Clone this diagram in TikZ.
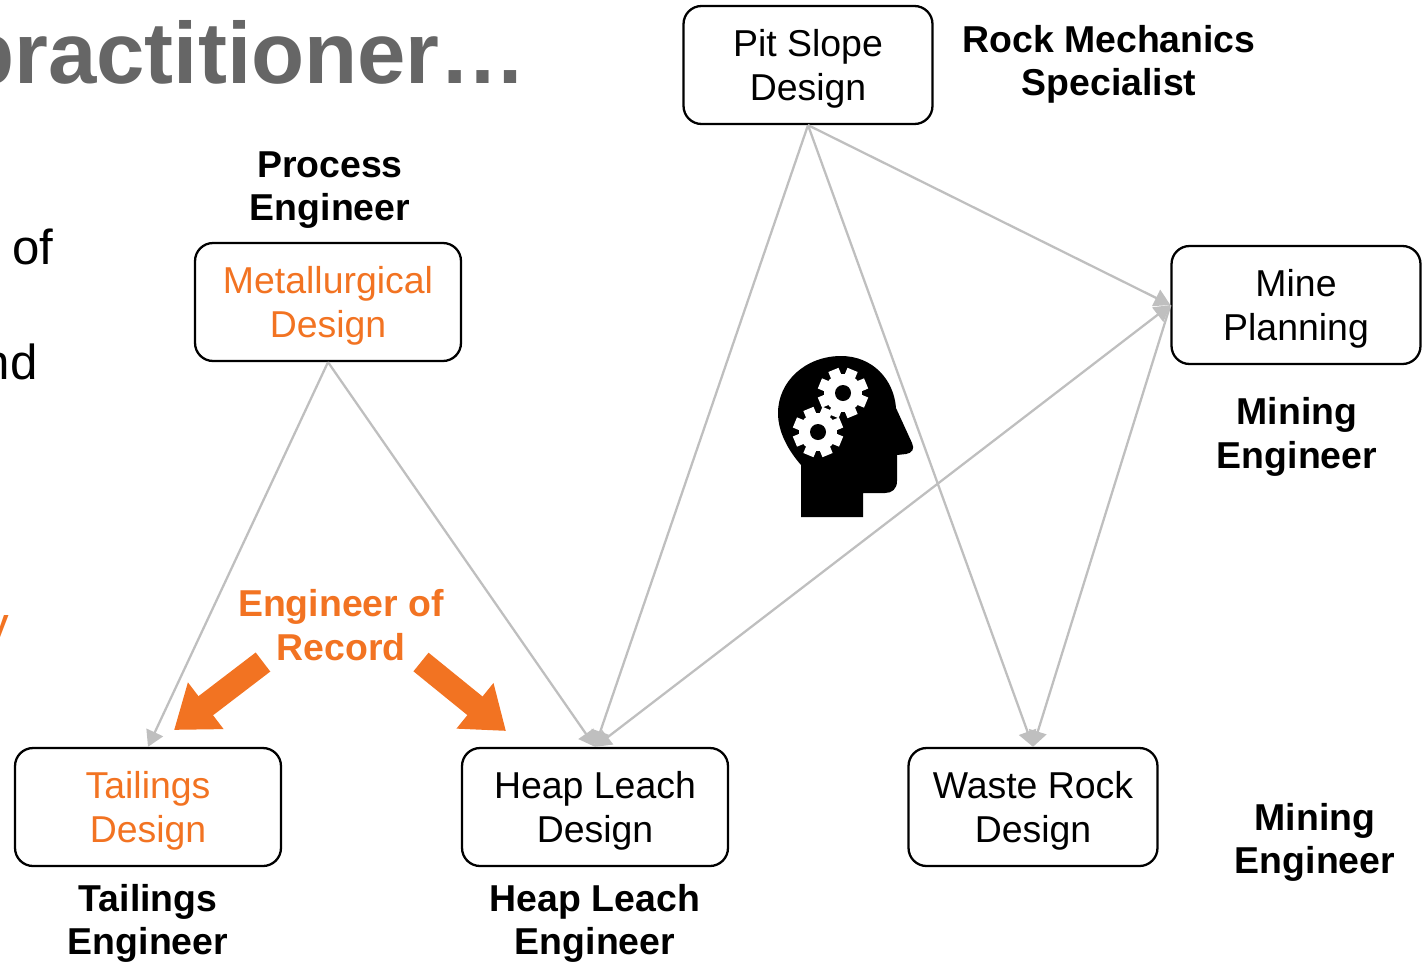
\documentclass[tikz,border=0pt]{standalone}
\usepackage{fontspec}
\setmainfont{Liberation Sans}
\usetikzlibrary{arrows.meta}
\definecolor{eor}{RGB}{242,115,34}
\definecolor{linkgray}{RGB}{191,191,191}
\definecolor{titlegray}{RGB}{102,102,102}
\tikzset{
  design/.style={draw,line width=1.3pt,rounded corners=0.36cm,align=center,
    minimum height=2.36cm,font=\fontsize{21.3}{25}\selectfont,text depth=0pt},
  role/.style={align=center,font=\bfseries\fontsize{21.3}{24.6}\selectfont},
  feeds/.style={draw=linkgray,line width=1.3pt,-{Triangle[length=0.32cm,width=0.36cm]}},
  bigarrow/.style={draw=eor,line width=0.48cm,-{Triangle[length=0.8cm,width=1.12cm]}},
  slidetext/.style={anchor=base east,inner sep=0pt}
}
\begin{document}
\begin{tikzpicture}[x=0.02cm,y=-0.02cm]
  \useasboundingbox (0,0) rectangle (1425,964);
  \node[slidetext,text=titlegray,font=\bfseries\fontsize{49.5}{50}\selectfont] (heading) at (527,83) {practitioner…};
  \node[slidetext,font=\fontsize{28}{30}\selectfont] (of) at (54,264) {of};
  \node[slidetext,font=\fontsize{28}{30}\selectfont] (nd) at (38,379) {nd};
  \node[slidetext,text=eor,font=\fontsize{28}{30}\selectfont] (y) at (9,641) {y};

  \node[design,minimum width=4.98cm] (slope) at (808,65) {Pit Slope\\Design};
  \node[design,minimum width=5.32cm,text=eor] (met) at (328,302) {Metallurgical\\Design};
  \node[design,minimum width=4.98cm] (plan) at (1296,305) {Mine\\Planning};
  \node[design,minimum width=5.32cm,text=eor] (tail) at (148,807) {Tailings\\Design};
  \node[design,minimum width=5.32cm] (heap) at (595,807) {Heap Leach\\Design};
  \node[design,minimum width=4.98cm] (waste) at (1033,807) {Waste Rock\\Design};

  \node[role] (rockrole) at (1109,64) {Rock Mechanics\\Specialist};
  \node[role] (procrole) at (330,190) {Process\\Engineer};
  \node[role] (planrole) at (1297,437) {Mining\\Engineer};
  \node[role] (wasterole) at (1315,842) {Mining\\Engineer};
  \node[role] (tailrole) at (148,923) {Tailings\\Engineer};
  \node[role] (heaprole) at (595,923) {Heap Leach\\Engineer};
  \node[role,text=eor] (record) at (341,625) {Engineer of\\Record};

  \draw[feeds] (met.south) -- (tail.north);
  \draw[feeds] (met.south) -- (heap.north);
  \draw[feeds] (slope.south) -- (heap.north);
  \draw[feeds] (slope.south) -- (waste.north);
  \draw[feeds] (slope.south) -- (plan.west);
  \draw[feeds,{Triangle[length=0.32cm,width=0.36cm]}-{Triangle[length=0.32cm,width=0.36cm]}] (heap.north) -- (plan.west);
  \draw[feeds] (plan.west) -- (waste.north);

  \coordinate (recl) at (263,662);
  \coordinate (tailhit) at (174,730);
  \coordinate (recr) at (421,662);
  \coordinate (heaphit) at (506,731);
  \draw[bigarrow] (recl) -- (tailhit);
  \draw[bigarrow] (recr) -- (heaphit);

  \fill (801,517) -- (801,465) .. controls (788,450) and (778,432) .. (778,413)
    .. controls (778,381) and (806,356) .. (841,356) .. controls (873,356) and (894,380) .. (896,408)
    -- (912,443) .. controls (915,449) and (912,453) .. (906,454) -- (897,455) -- (897,481)
    .. controls (897,489) and (892,493) .. (885,493) -- (863,493) -- (863,517) -- cycle;
  \foreach \gx/\gy in {843/393,818/432}{
    \fill[white] (\gx,\gy) circle (19);
    \foreach \a in {0,45,...,315}
      \draw[white,line width=0.22cm] (\gx,\gy) -- ++(\a+22.5:25);
    \fill (\gx,\gy) circle (8);
  }
\end{tikzpicture}
\end{document}
